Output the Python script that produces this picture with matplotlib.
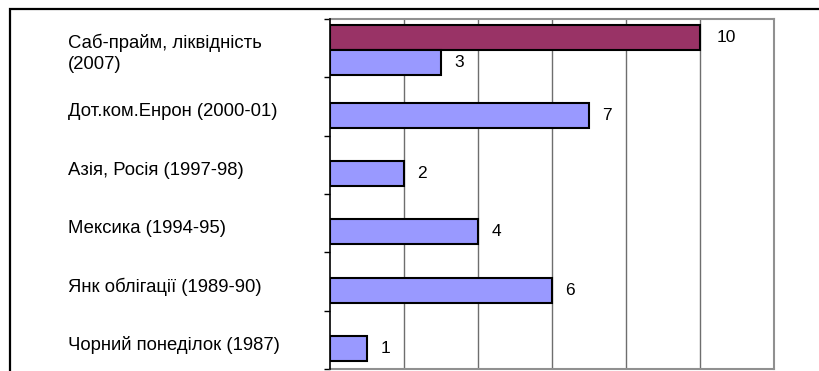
import matplotlib.pyplot as plt
import matplotlib.transforms as mtransforms
from matplotlib.patches import Rectangle

# --- data (bottom -> top, як у Excel) ---
categories = [
    'Чорний понеділок (1987)',
    'Янк облігації (1989-90)',
    'Мексика (1994-95)',
    'Азія, Росія (1997-98)',
    'Дот.ком.Енрон (2000-01)',
    'Саб-прайм, ліквідність\n(2007)',
]
series_blue = [1, 6, 4, 2, 7, 3]
series_red = [None, None, None, None, None, 10]   # тільки для 2007

# --- style ---
c_blue = '#9999FF'
c_red = '#993366'
bar_h = 0.43
font = 'Liberation Sans'
plt.rcParams['font.family'] = [font, 'DejaVu Sans']

fig = plt.figure(figsize=(8.19, 3.71), dpi=100)
ax = fig.add_axes([330 / 819, 1 - 369 / 371, 444 / 819, 350 / 371])

# зовнішня рамка (обрізана праворуч і знизу)
fig.patches.append(Rectangle((10 / 819, -0.2), 1.2, 1.2 - 9 / 371,
                             transform=fig.transFigure, fill=False,
                             edgecolor='black', linewidth=1.6, clip_on=False))

for i, (v, r) in enumerate(zip(series_blue, series_red)):
    if r is None:
        yb = i - 0.15
    else:
        yb = i - 0.25
        yr = yb + bar_h
        ax.barh(yr, r, height=bar_h, color=c_red, edgecolor='black', linewidth=1.5, zorder=3)
        ax.annotate(str(r), (r, yr), xytext=(12, 0), textcoords='offset points',
                    va='center', ha='left', fontsize=12.5)
    ax.barh(yb, v, height=bar_h, color=c_blue, edgecolor='black', linewidth=1.5, zorder=3)
    ax.annotate(str(v), (v, yb), xytext=(9.5, 0), textcoords='offset points',
                va='center', ha='left', fontsize=12.5)

ax.set_xlim(0, 12)
ax.set_ylim(-0.5, len(categories) - 0.5)
ax.set_xticks([2, 4, 6, 8, 10])
ax.tick_params(axis='x', length=0, labelbottom=False)
ax.grid(axis='x', color='#6e6e6e', linewidth=1.0, zorder=0)
ax.set_yticks([i - 0.5 for i in range(len(categories) + 1)])
ax.set_yticklabels([])
ax.tick_params(axis='y', direction='out', length=4, width=1, color='black')

for s in ['top', 'right', 'bottom']:
    ax.spines[s].set_color('#909090')
    ax.spines[s].set_linewidth(1.5)
ax.spines['left'].set_color('black')
ax.spines['left'].set_linewidth(1.2)
ax.spines['left'].set_zorder(4)

# підписи категорій, вирівняні ліворуч
trans = mtransforms.blended_transform_factory(fig.transFigure, ax.transData)
for i, lab in enumerate(categories):
    ax.text(68 / 819, i - 0.09, lab, transform=trans, ha='left', va='center',
            fontsize=13.3, linespacing=1.3)

fig.savefig('out.png', dpi=100)
